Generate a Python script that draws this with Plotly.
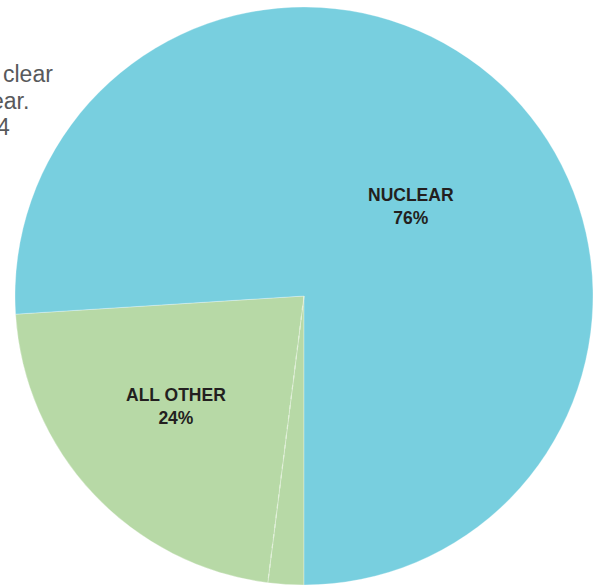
import math
import plotly.graph_objects as go

# Data (listed in drawing order, clockwise from 6 o'clock)
categories = ["ALL OTHER (minor)", "ALL OTHER", "NUCLEAR"]
values = [2, 22, 76]
colors = ["#b7d9a6", "#b7d9a6", "#78cfdf"]
label_names = ["NUCLEAR", "ALL OTHER"]
label_pcts = ["76%", "24%"]
side_text = ["clear", "ear.", "4"]

W, H = 600, 585
ml, mr, mt, mb = 15, 7, 7, 0  # plot area 578x578 -> square

def px_to_paper(px, py):
    return (px - ml) / (W - ml - mr), 1 - (py - mt) / (H - mt - mb)

fig = go.Figure()
fig.add_trace(go.Pie(
    labels=categories,
    values=values,
    sort=False,
    direction="clockwise",
    rotation=180,
    marker=dict(colors=colors, line=dict(color="rgba(255,255,255,0.5)", width=0.6)),
    textinfo="none",
    hoverinfo="label+percent",
    showlegend=False,
    domain=dict(x=[0, 1], y=[0, 1]),
))

# dashed divider between the two green parts, computed from the data
total = sum(values)
frac = values[0] / total
# start at 6 o'clock (-90 deg in math coords), going clockwise
ang = math.radians(-90 - 360 * frac)
cx, cy, r = 0.5, 0.5, 0.5
fig.add_shape(type="line", xref="paper", yref="paper",
              x0=cx, y0=cy, x1=cx + r * math.cos(ang), y1=cy + r * math.sin(ang),
              line=dict(color="#e2f0da", width=1.2, dash="4px,6px"))

# slice labels
label_pos = [(410.5, 207), (176, 407)]
for name, pct, (px, py) in zip(label_names, label_pcts, label_pos):
    x, y = px_to_paper(px, py)
    fig.add_annotation(
        x=x, y=y, xref="paper", yref="paper", showarrow=False,
        xanchor="center", yanchor="middle",
        text=f"<b>{name}<br>{pct}</b>",
        font=dict(family="Liberation Sans, Arial, sans-serif", size=17.5, color="#231f20"),
        align="center",
    )

# cut-off side text on the left
side_pos = [(55, 74), (31, 101), (12, 127)]
for t, (px, py) in zip(side_text, side_pos):
    x, y = px_to_paper(px, py)
    fig.add_annotation(
        x=x, y=y, xref="paper", yref="paper", showarrow=False,
        xanchor="right", yanchor="middle",
        text=t, font=dict(family="Liberation Sans, Arial, sans-serif", size=23, color="#58595b"),
    )

fig.update_layout(
    width=W, height=H,
    margin=dict(l=ml, r=mr, t=mt, b=mb, pad=0),
    paper_bgcolor="white", plot_bgcolor="white",
)

fig.write_html("out.html", config={"displayModeBar": False},
               post_script="document.body.style.margin='0';document.body.style.padding='0';")
